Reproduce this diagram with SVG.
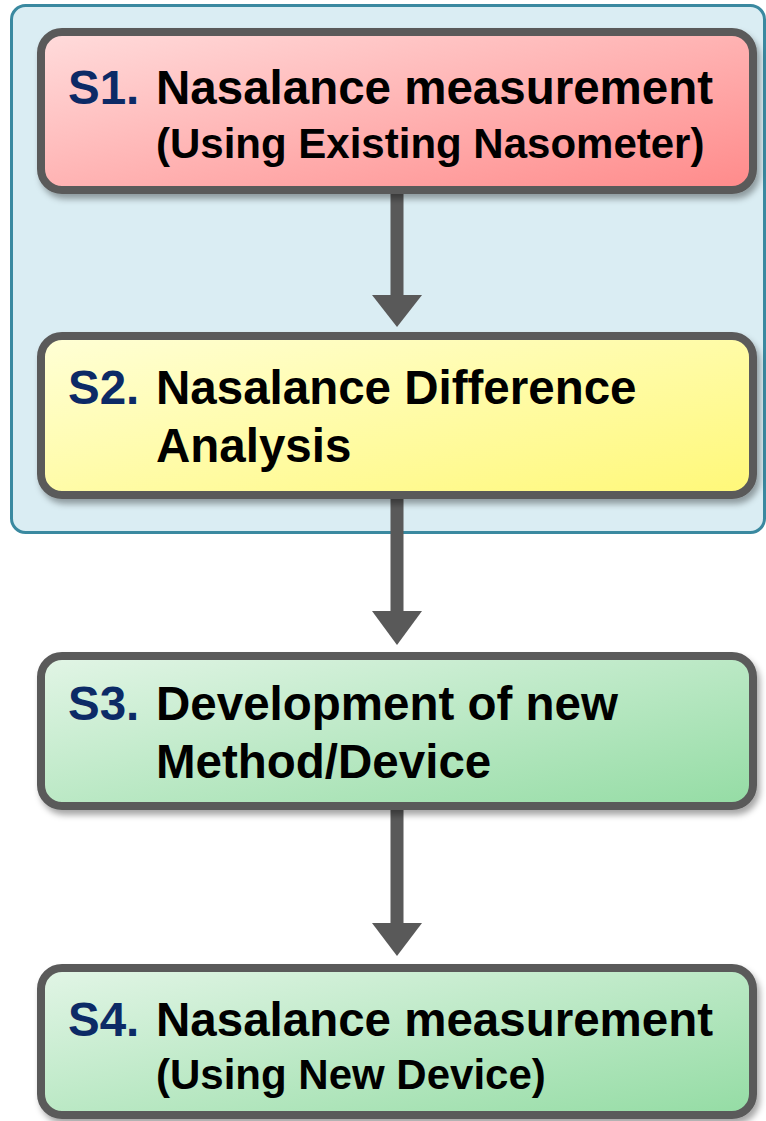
<svg xmlns="http://www.w3.org/2000/svg" width="766" height="1121" viewBox="0 0 766 1121">
  <defs>
    <linearGradient id="gRed" x1="0" y1="0" x2="1" y2="1">
      <stop offset="0" stop-color="#ffdcdc"/>
      <stop offset="1" stop-color="#ff8a8a"/>
    </linearGradient>
    <linearGradient id="gYellow" x1="0" y1="0" x2="1" y2="1">
      <stop offset="0" stop-color="#ffffd6"/>
      <stop offset="1" stop-color="#fff878"/>
    </linearGradient>
    <linearGradient id="gGreen" x1="0" y1="0" x2="1" y2="1">
      <stop offset="0" stop-color="#e2f5e6"/>
      <stop offset="1" stop-color="#94dca4"/>
    </linearGradient>
    <filter id="shadow" x="-5%" y="-10%" width="112%" height="130%">
      <feDropShadow dx="3" dy="5" stdDeviation="3" flood-color="#000" flood-opacity="0.35"/>
    </filter>
  </defs>
  <style>
    .box { stroke: #5a5a5a; stroke-width: 8; filter: url(#shadow); }
    .t1 { font-family: "Liberation Sans", Arial, sans-serif; font-weight: bold; font-size: 47.5px; fill: #000; }
    .t2 { font-family: "Liberation Sans", Arial, sans-serif; font-weight: bold; font-size: 42px; fill: #000; }
    .num { fill: #0c2a66; }
    .shaft { stroke: #595959; stroke-width: 13; fill: none; }
    .head { fill: #595959; }
  </style>

  <!-- shaded frame around the first two steps -->
  <rect id="frame" x="11.5" y="5.5" width="753" height="527" rx="14" fill="#daedf3" stroke="#3a89a0" stroke-width="3"/>

  <!-- connectors -->
  <g id="connectors">
    <line class="shaft" x1="397" y1="190" x2="397" y2="297"/>
    <polygon class="head" points="372,295 422,295 397,327"/>
    <line class="shaft" x1="397" y1="495" x2="397" y2="613"/>
    <polygon class="head" points="372,611 422,611 397,645"/>
    <line class="shaft" x1="397" y1="806" x2="397" y2="925"/>
    <polygon class="head" points="372,923 422,923 397,956"/>
  </g>

  <g id="s1">
    <rect class="box" x="41" y="32" width="712" height="158" rx="21" fill="url(#gRed)"/>
    <text class="t1 num" x="68" y="104">S1.</text>
    <text class="t1" x="156" y="104">Nasalance measurement</text>
    <text class="t2" x="156" y="158">(Using Existing Nasometer)</text>
  </g>

  <g id="s2">
    <rect class="box" x="41" y="336" width="712" height="159" rx="21" fill="url(#gYellow)"/>
    <text class="t1 num" x="68" y="404">S2.</text>
    <text class="t1" x="156" y="404">Nasalance Difference</text>
    <text class="t1" x="156" y="462">Analysis</text>
  </g>

  <g id="s3">
    <rect class="box" x="41" y="656" width="712" height="150" rx="21" fill="url(#gGreen)"/>
    <text class="t1 num" x="68" y="720">S3.</text>
    <text class="t1" x="156" y="720">Development of new</text>
    <text class="t1" x="156" y="778">Method/Device</text>
  </g>

  <g id="s4">
    <rect class="box" x="41" y="968" width="712" height="147" rx="21" fill="url(#gGreen)"/>
    <text class="t1 num" x="68" y="1036">S4.</text>
    <text class="t1" x="156" y="1036">Nasalance measurement</text>
    <text class="t2" x="156" y="1089">(Using New Device)</text>
  </g>
</svg>
